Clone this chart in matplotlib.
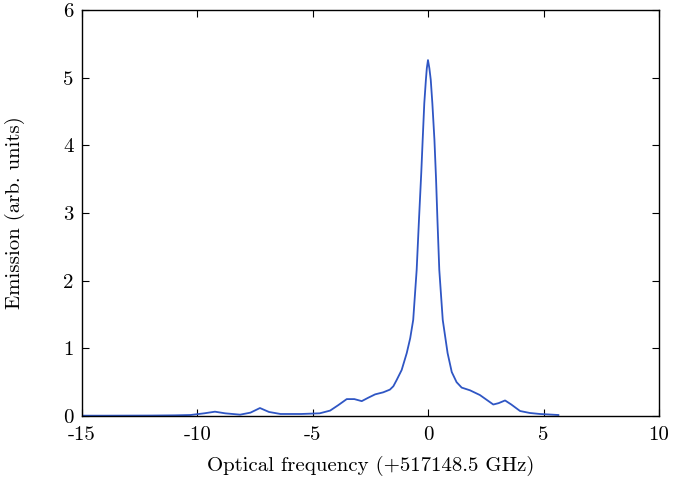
import numpy as np
import matplotlib
matplotlib.use("Agg")
import matplotlib.pyplot as plt

plt.rcParams['font.family'] = ['cmr10', 'DejaVu Serif']
plt.rcParams['mathtext.fontset'] = 'cm'
plt.rcParams['axes.unicode_minus'] = False
plt.rcParams['axes.formatter.use_mathtext'] = True

# emission spectrum
freq = [-15, -14, -13, -12, -11, -10.3, -9.7, -9.24, -8.8, -8.15, -7.7, -7.29,
        -6.9, -6.4, -5.5, -4.7, -4.25, -3.9, -3.53, -3.2, -2.88, -2.6, -2.3,
        -1.95, -1.66, -1.51, -1.37, -1.15, -0.93, -0.78, -0.65, -0.50, -0.40,
        -0.30, -0.24, -0.17, -0.1, -0.06, -0.01, 0.05, 0.11, 0.18, 0.27, 0.34,
        0.40, 0.48, 0.63, 0.84, 1.02, 1.23, 1.45, 1.81, 2.24, 2.82, 3.05, 3.33,
        3.6, 3.98, 4.4, 4.84, 5.64]
emis = [0.005, 0.005, 0.006, 0.007, 0.01, 0.015, 0.04, 0.064, 0.04, 0.02, 0.05, 0.118,
        0.06, 0.03, 0.03, 0.04, 0.08, 0.16, 0.25, 0.25, 0.22, 0.27, 0.32,
        0.35, 0.39, 0.44, 0.53, 0.68, 0.93, 1.15, 1.42, 2.16, 2.90,
        3.6, 4.08, 4.62, 4.97, 5.14, 5.26, 5.14, 4.97, 4.62, 4.08, 3.5,
        2.90, 2.16, 1.42, 0.93, 0.65, 0.50, 0.42, 0.38, 0.31, 0.17, 0.19, 0.23,
        0.17, 0.074, 0.045, 0.03, 0.015]

xticks = [-15, -10, -5, 0, 5, 10]
yticks = [0, 1, 2, 3, 4, 5, 6]

fig = plt.figure(figsize=(6.75, 4.86), dpi=100)
ax = fig.add_axes([0.1215, 0.144, 0.8548, 0.8354])
ax.plot(freq, emis, color='#2f56c4', lw=1.3)
ax.set_xlim(-15, 10)
ax.set_ylim(0, 6)
ax.set_xticks(xticks)
ax.set_xticklabels([str(t) for t in xticks])
ax.set_yticks(yticks)
ax.set_yticklabels([str(t) for t in yticks])
ax.tick_params(direction='in', top=True, right=True, length=5, labelsize=15, pad=6)
ax.tick_params(axis='x', pad=7)
for s in ax.spines.values():
    s.set_linewidth(1.0)
ax.set_xlabel("Optical frequency (+517148.5 GHz)", fontsize=15, labelpad=9)
ax.set_ylabel("Emission (arb. units)", fontsize=15)
ax.yaxis.set_label_coords(-0.098, 0.5)

fig.savefig("out.png", dpi=100)
